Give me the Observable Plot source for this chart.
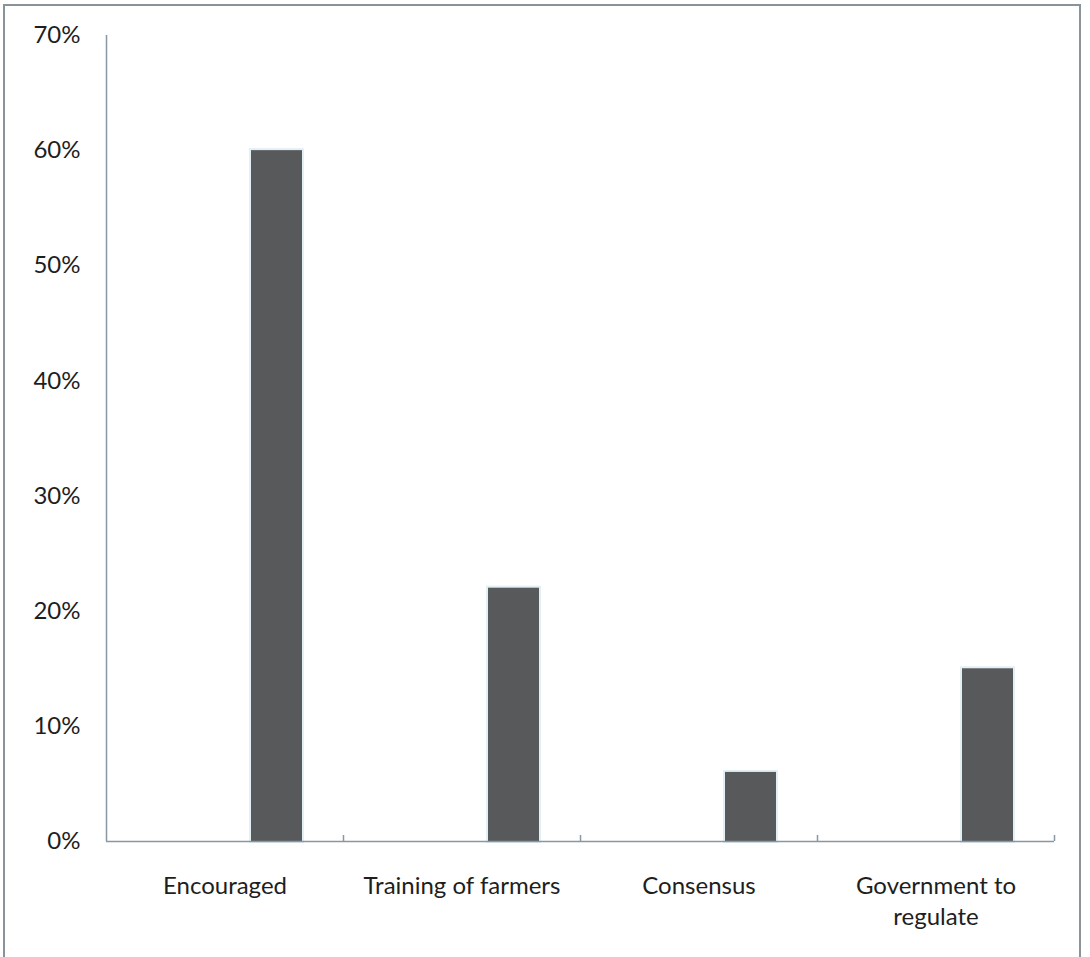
<!DOCTYPE html>
<html>
<head>
<meta charset="utf-8">
<script src="https://cdn.jsdelivr.net/npm/d3@7"></script>
<script src="https://cdn.jsdelivr.net/npm/@observablehq/plot@0.6"></script>
<style>
  html, body { margin: 0; padding: 0; background: #ffffff; overflow: hidden; }
  #frame {
    position: absolute; left: 3px; top: 4px; width: 1078px; height: 1000px;
    border: 2px solid #8a9399; box-sizing: border-box;
  }
  #chart { position: absolute; left: 0; top: 0; }
</style>
</head>
<body>
<div id="frame"></div>
<div id="chart"></div>
<script>
// Share of respondents by suggested approach
const categories = ["Encouraged", "Training of farmers", "Consensus", "Government to regulate"];
const shares = [0.60, 0.22, 0.06, 0.15];
const categoryLabels = ["Encouraged", "Training of farmers", "Consensus", "Government to\nregulate"];
const yTicks = [0, 0.1, 0.2, 0.3, 0.4, 0.5, 0.6, 0.7];

const data = categories.map((c, i) => ({category: c, share: shares[i]}));
const labelOf = new Map(categories.map((c, i) => [c, categoryLabels[i]]));

const W = 1090, H = 957;
const mL = 106, mR = 36, mT = 35, mB = 116;
const band = (W - mL - mR) / categories.length;
const axisColor = "#8797a3";
const font = "Lato, 'Open Sans', sans-serif";

const chart = Plot.plot({
  width: W,
  height: H,
  marginLeft: mL,
  marginRight: mR,
  marginTop: mT,
  marginBottom: mB,
  style: {fontFamily: font, background: "transparent", color: "#222"},
  x: {domain: categories, padding: 0, label: null},
  y: {domain: [0, 0.7], label: null},
  marks: [
    // bars sit in the right part of each category band
    Plot.barY(data, {
      x: "category", y: "share",
      fill: "#58595b",
      stroke: "#e2f0f6", strokeWidth: 4, paintOrder: "stroke",
      insetLeft: 145, insetRight: band - 145 - 51
    }),
    // value axis line
    Plot.ruleX(categories.slice(0, 1), {x: d => d, dx: -band / 2, y1: 0, y2: 0.7, stroke: axisColor, strokeWidth: 1.5}),
    // category axis line
    Plot.ruleY([0], {stroke: axisColor, strokeWidth: 1.5}),
    // small tick marks on band boundaries
    Plot.ruleX(categories, {x: d => d, dx: band / 2, y1: 0, y2: 0, insetTop: -6, stroke: axisColor, strokeWidth: 1.5}),
    Plot.axisY({
      ticks: yTicks, tickFormat: d3.format(".0%"),
      tickSize: 0, tickPadding: 26, fontSize: 24, fill: "#1e1e1e"
    }),
    Plot.axisX({
      tickSize: 0, tickPadding: 30, fontSize: 24, lineHeight: 1.3,
      tickFormat: d => labelOf.get(d), fill: "#1e1e1e"
    })
  ]
});

document.getElementById("chart").append(chart);
</script>
</body>
</html>
